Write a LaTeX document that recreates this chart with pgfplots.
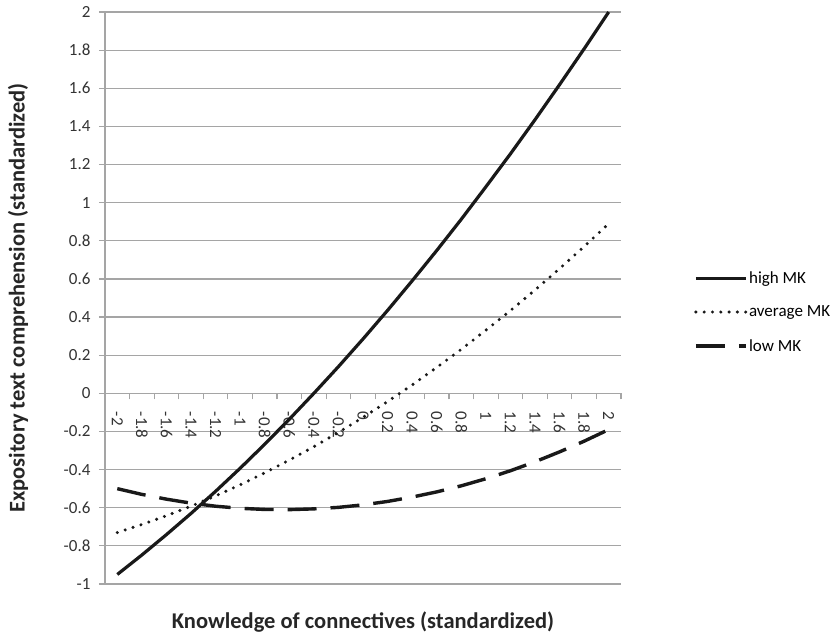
\documentclass[border=0pt]{standalone}
\usepackage{pgfplots}
\pgfplotsset{compat=1.18}
\usepackage{fontspec}
\setmainfont{Carlito}
\definecolor{gridgray}{RGB}{165,165,165}
\definecolor{linecol}{RGB}{25,25,25}
\pgfplotstableread{
x high avg low
0 -0.950 -0.730 -0.500
1 -0.848 -0.688 -0.530
2 -0.741 -0.642 -0.555
3 -0.630 -0.592 -0.576
4 -0.514 -0.538 -0.592
5 -0.393 -0.480 -0.603
6 -0.267 -0.417 -0.609
7 -0.136 -0.350 -0.610
8 0.000 -0.280 -0.606
9 0.140 -0.205 -0.598
10 0.285 -0.126 -0.585
11 0.435 -0.043 -0.567
12 0.590 0.044 -0.544
13 0.749 0.136 -0.517
14 0.913 0.231 -0.485
15 1.083 0.331 -0.448
16 1.256 0.434 -0.406
17 1.435 0.542 -0.359
18 1.619 0.654 -0.307
19 1.807 0.770 -0.251
20 2.000 0.890 -0.190
}\datatable
\begin{document}
\begin{tikzpicture}
\path[use as bounding box] (-105bp,-50bp) rectangle (731bp,584bp);
\begin{axis}[
  at={(0,0)}, anchor=south west,
  scale only axis, width=516bp, height=572bp,
  xmin=-0.5, xmax=20.5, ymin=-1, ymax=2,
  clip=false,
  axis y line*=left, axis x line*=middle,
  axis line style={gridgray, line width=1.2bp, -},
  tick align=outside,
  major tick length=6bp, minor tick length=6bp,
  ytick={-1,-0.8,-0.6,-0.4,-0.2,0,0.2,0.4,0.6,0.8,1,1.2,1.4,1.6,1.8,2},
  yticklabels={-1,-0.8,-0.6,-0.4,-0.2,0,0.2,0.4,0.6,0.8,1,1.2,1.4,1.6,1.8,2},
  ymajorgrids,
  grid style={gridgray, line width=1.2bp},
  y tick style={gridgray, line width=1.2bp},
  xtick={0,...,20},
  xticklabels={-2,-1.8,-1.6,-1.4,-1.2,-1,-0.8,-0.6,-0.4,-0.2,0,0.2,0.4,0.6,0.8,1,1.2,1.4,1.6,1.8,2},
  major x tick style={draw=none},
  minor xtick={-0.5,0.5,...,20.5},
  minor x tick style={gridgray, line width=1.2bp},
  tick label style={font=\fontsize{17bp}{20bp}\selectfont, text=black!80},
  yticklabel style={xshift=-5bp},
  xticklabel style={rotate=-90, anchor=west, xshift=9bp},
  /pgf/number format/assume math mode=true,
  xlabel={Knowledge of connectives (standardized)},
  ylabel={Expository text comprehension (standardized)},
  label style={font=\bfseries\fontsize{22.5bp}{25bp}\selectfont, text=black!85},
  x label style={at={(axis description cs:0.5,0)}, anchor=center, yshift=-38bp},
  y label style={at={(axis description cs:0,0.5)}, anchor=center, yshift=87bp},
  legend style={at={(1,0.4755)}, anchor=west, xshift=73bp, draw=none, fill=none,
    font=\fontsize{17bp}{20bp}\selectfont, row sep=18bp, inner sep=0pt,
    nodes={inner sep=1.5bp}},
  legend cell align=left,
  legend image code/.code={\draw[#1] (0bp,0bp) -- (50bp,0bp);},
]
\addplot[linecol, line width=3.2bp, line join=round] table[x=x, y=high] {\datatable};
\addlegendentry{high MK}
\addplot[linecol, line width=3.4bp, line cap=round, dash pattern=on 0bp off 8.3bp] table[x=x, y=avg] {\datatable};
\addlegendentry{average MK}
\addplot[linecol, line width=3.4bp, dash pattern=on 29bp off 14bp] table[x=x, y=low] {\datatable};
\addlegendentry{low MK}
\end{axis}
\end{tikzpicture}
\end{document}
